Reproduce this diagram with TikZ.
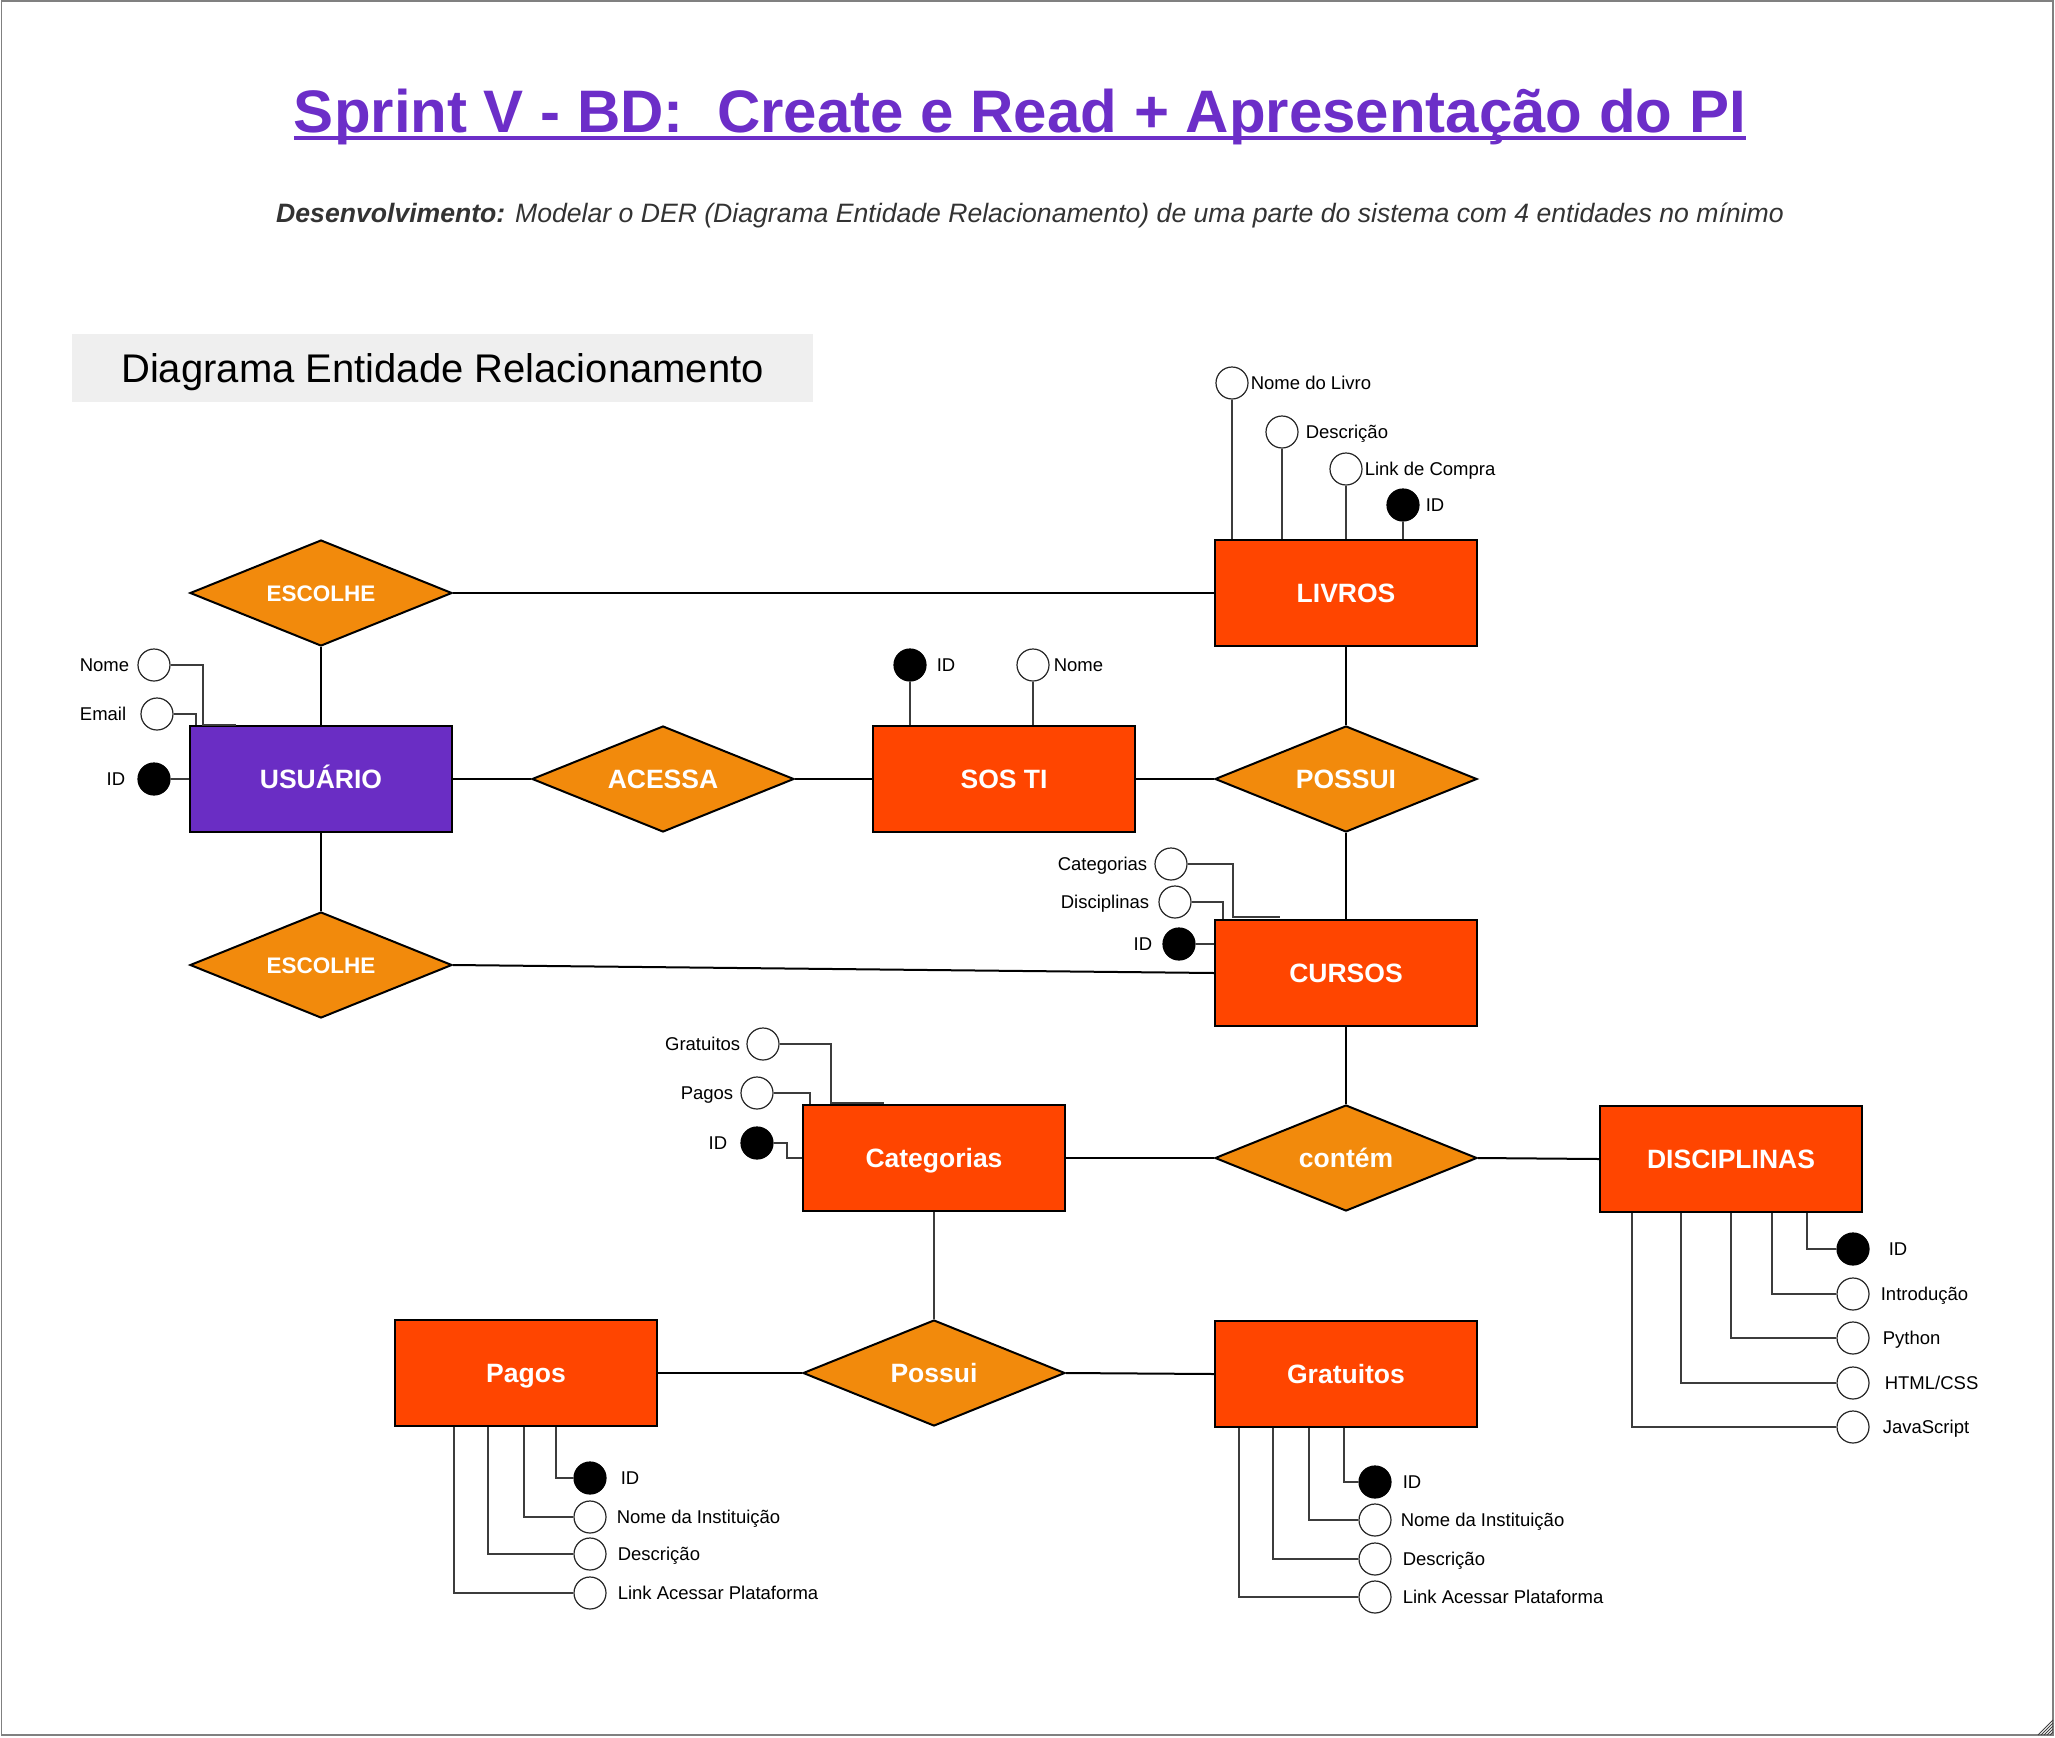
\documentclass[tikz,border=0pt]{standalone}
\usepackage{fontspec}
\setmainfont{Liberation Sans}
\usepackage{tikz}
\usetikzlibrary{positioning,shapes.geometric}
\definecolor{entorange}{RGB}{255,69,0}
\definecolor{relorange}{RGB}{242,138,12}
\definecolor{usrpurple}{RGB}{106,45,196}
\definecolor{titlepurple}{RGB}{108,46,200}
\definecolor{subgray}{RGB}{51,51,51}
\definecolor{boxgray}{RGB}{239,239,239}
\definecolor{framegray}{RGB}{128,128,128}
\definecolor{linegray}{RGB}{60,60,60}

\tikzset{
  ent/.style={draw=black,line width=2pt,fill=entorange,minimum width=262pt,
    minimum height=106pt,inner sep=0pt,text=white,text height=19pt,
    text depth=0pt,font=\fontsize{26.5}{30}\selectfont\bfseries},
  rel/.style={diamond,aspect=2.47,draw=black,line width=2pt,fill=relorange,
    minimum width=262pt,minimum height=106pt,inner sep=0pt,text=white,
    text height=19pt,text depth=0pt,
    font=\fontsize{26.5}{30}\selectfont\bfseries},
  relsmall/.style={rel,text height=16pt,
    font=\fontsize{22.5}{26}\selectfont\bfseries},
  attr/.style={circle,draw=black!85,line width=1.2pt,fill=white,
    minimum size=32pt,inner sep=0pt},
  pk/.style={attr,fill=black,draw=black},
  atxt/.style={inner sep=0pt,text height=13.3pt,text depth=0pt,
    font=\fontsize{18.5}{22}\selectfont},
  conn/.style={draw=black,line width=2pt},
  aconn/.style={draw=linegray,line width=1.3pt},
}

\begin{document}
\begin{tikzpicture}[x=1pt,y=-1pt]
  \useasboundingbox (0,0) rectangle (2055,1737);
  \draw[framegray,line width=1.5pt] (1.5,1) rectangle (2053,1735);
  \foreach \d in {3,6,9,12,15}
    \draw[black!75,line width=0.8pt] (2053-\d,1735) -- (2053,1735-\d);

  % titulo
  \node[anchor=base,inner sep=0pt,text=titlepurple,
    font=\fontsize{60}{72}\selectfont\bfseries] (title) at (1020,132)
    {Sprint V - BD:\ \ Create e Read + Apresentação do PI};
  \draw[titlepurple,line width=4pt] ([yshift=-5.5pt]title.base west)
    -- ([yshift=-5.5pt]title.base east);
  \node[anchor=base,inner sep=0pt,text=subgray,
    font=\fontsize{26.6}{30}\selectfont\itshape] (sub) at (1030,222)
    {\textbf{Desenvolvimento:} Modelar o DER (Diagrama Entidade Relacionamento) de uma parte do sistema com 4 entidades no mínimo};
  \node[fill=boxgray,minimum width=741pt,minimum height=68pt,inner sep=0pt,
    text height=28.6pt,text depth=0pt,
    font=\fontsize{40}{48}\selectfont] (der) at (442.5,368)
    {Diagrama Entidade Relacionamento};

  % entidades
  \node[ent] (liv) at (1346,593) {LIVROS};
  \node[ent,fill=usrpurple] (usr) at (321,779) {USUÁRIO};
  \node[ent] (sos) at (1004,779) {SOS TI};
  \node[ent] (cur) at (1346,973) {CURSOS};
  \node[ent] (cat) at (934,1158) {Categorias};
  \node[ent] (dis) at (1731,1159) {DISCIPLINAS};
  \node[ent] (pag) at (526,1373) {Pagos};
  \node[ent] (gra) at (1346,1374) {Gratuitos};

  % relacionamentos
  \node[relsmall] (esc1) at (321,593) {ESCOLHE};
  \node[rel] (ace) at (663,779) {ACESSA};
  \node[rel] (pos1) at (1346,779) {POSSUI};
  \node[relsmall] (esc2) at (321,965) {ESCOLHE};
  \node[rel] (con) at (1346,1158) {contém};
  \node[rel] (pos2) at (934,1373) {Possui};

  \draw[conn] (esc1.east) -- (liv.west);
  \draw[conn] (esc1.south) -- (usr.north);
  \draw[conn] (usr.east) -- (ace.west);
  \draw[conn] (ace.east) -- (sos.west);
  \draw[conn] (sos.east) -- (pos1.west);
  \draw[conn] (liv.south) -- (pos1.north);
  \draw[conn] (pos1.south) -- (cur.north);
  \draw[conn] (usr.south) -- (esc2.north);
  \draw[conn] (esc2.east) -- (cur.west);
  \draw[conn] (cur.south) -- (con.north);
  \draw[conn] (cat.east) -- (con.west);
  \draw[conn] (con.east) -- (dis.west);
  \draw[aconn] (cat.south) -- (pos2.north);
  \draw[conn] (pag.east) -- (pos2.west);
  \draw[conn] (pos2.east) -- (gra.west);

  % atributos LIVROS
  \node[attr] (lNome) at (1232,383) {};
  \node[attr] (lDesc) at (1282,432) {};
  \node[attr] (lLink) at (1346,469) {};
  \node[pk] (lID) at (1403,505) {};
  \node[atxt,right=2pt of lNome] (tlNome) {Nome do Livro};
  \node[atxt,right=7pt of lDesc] (tlDesc) {Descrição};
  \node[atxt,right=2pt of lLink] (tlLink) {Link de Compra};
  \node[atxt,right=6pt of lID] (tlID) {ID};
  \foreach \a in {lNome,lDesc,lLink,lID}
    \draw[aconn] (\a.south) -- (\a.south |- liv.north);

  % atributos USUARIO
  \node[attr] (uNome) at (154,665) {};
  \node[attr] (uEmail) at (157,714) {};
  \node[pk] (uID) at (154,779) {};
  \node[atxt,left=8pt of uNome] (tuNome) {Nome};
  \node[atxt,left=14pt of uEmail] (tuEmail) {Email};
  \node[atxt,left=12pt of uID] (tuID) {ID};
  \draw[aconn] (uNome.east) -| ([xshift=14pt]usr.north west)
    -- ([xshift=47pt]usr.north west);
  \draw[aconn] (uEmail.east) -| ([xshift=7pt]usr.north west);
  \draw[aconn] (uID.east) -- (usr.west);

  % atributos SOS TI
  \node[pk] (sID) at (910,665) {};
  \node[attr] (sNome) at (1033,665) {};
  \node[atxt,right=10pt of sID] (tsID) {ID};
  \node[atxt,right=4pt of sNome] (tsNome) {Nome};
  \draw[aconn] (sID.south) -- (sID.south |- sos.north);
  \draw[aconn] (sNome.south) -- (sNome.south |- sos.north);

  % atributos CURSOS
  \node[attr] (cCat) at (1171,864) {};
  \node[attr] (cDisc) at (1175,902) {};
  \node[pk] (cID) at (1179,944) {};
  \node[atxt,left=7pt of cCat] (tcCat) {Categorias};
  \node[atxt,left=9pt of cDisc] (tcDisc) {Disciplinas};
  \node[atxt,left=10pt of cID] (tcID) {ID};
  \draw[aconn] (cCat.east) -| ([xshift=19pt,yshift=2pt]cur.north west)
    -- ([xshift=66pt,yshift=2pt]cur.north west);
  \draw[aconn] (cDisc.east) -| ([xshift=9pt]cur.north west);
  \draw[aconn] (cID.east) -- (cID.east -| cur.west);

  % atributos Categorias
  \node[attr] (gGrat) at (763,1044) {};
  \node[attr] (gPag) at (757,1093) {};
  \node[pk] (gID) at (757,1143) {};
  \node[atxt,left=6pt of gGrat] (tgGrat) {Gratuitos};
  \node[atxt,left=7pt of gPag] (tgPag) {Pagos};
  \node[atxt,left=13pt of gID] (tgID) {ID};
  \draw[aconn] (gGrat.east) -| ([xshift=29pt,yshift=1pt]cat.north west)
    -- ([xshift=82pt,yshift=1pt]cat.north west);
  \draw[aconn] (gPag.east) -| ([xshift=8pt]cat.north west);
  \draw[aconn] (gID.east) -| ([xshift=-15pt]cat.west) -- (cat.west);

  % atributos DISCIPLINAS
  \node[pk] (dID) at (1853,1249) {};
  \node[attr] (dIntro) at (1853,1294) {};
  \node[attr] (dPy) at (1853,1338) {};
  \node[attr] (dWeb) at (1853,1383) {};
  \node[attr] (dJs) at (1853,1427) {};
  \node[atxt,right=19pt of dID] (tdID) {ID};
  \node[atxt,right=11pt of dIntro] (tdIntro) {Introdução};
  \node[atxt,right=13pt of dPy] (tdPy) {Python};
  \node[atxt,right=15pt of dWeb] (tdWeb) {HTML/CSS};
  \node[atxt,right=13pt of dJs] (tdJs) {JavaScript};
  \draw[aconn] ([xshift=208pt]dis.south west) |- (dID.west);
  \draw[aconn] ([xshift=173pt]dis.south west) |- (dIntro.west);
  \draw[aconn] ([xshift=132pt]dis.south west) |- (dPy.west);
  \draw[aconn] ([xshift=82pt]dis.south west) |- (dWeb.west);
  \draw[aconn] ([xshift=33pt]dis.south west) |- (dJs.west);

  % atributos Pagos
  \node[pk] (pID) at (590,1478) {};
  \node[attr] (pNome) at (590,1517) {};
  \node[attr] (pDesc) at (590,1554) {};
  \node[attr] (pLink) at (590,1593) {};
  \node[atxt,right=14pt of pID] (tpID) {ID};
  \node[atxt,right=10pt of pNome] (tpNome) {Nome da Instituição};
  \node[atxt,right=11pt of pDesc] (tpDesc) {Descrição};
  \node[atxt,right=11pt of pLink] (tpLink) {Link Acessar Plataforma};
  \draw[aconn] ([xshift=162pt]pag.south west) |- (pID.west);
  \draw[aconn] ([xshift=130pt]pag.south west) |- (pNome.west);
  \draw[aconn] ([xshift=94pt]pag.south west) |- (pDesc.west);
  \draw[aconn] ([xshift=60pt]pag.south west) |- (pLink.west);

  % atributos Gratuitos
  \node[pk] (rID) at (1375,1482) {};
  \node[attr] (rNome) at (1375,1520) {};
  \node[attr] (rDesc) at (1375,1559) {};
  \node[attr] (rLink) at (1375,1597) {};
  \node[atxt,right=11pt of rID] (trID) {ID};
  \node[atxt,right=9pt of rNome] (trNome) {Nome da Instituição};
  \node[atxt,right=11pt of rDesc] (trDesc) {Descrição};
  \node[atxt,right=11pt of rLink] (trLink) {Link Acessar Plataforma};
  \draw[aconn] ([xshift=130pt]gra.south west) |- (rID.west);
  \draw[aconn] ([xshift=95pt]gra.south west) |- (rNome.west);
  \draw[aconn] ([xshift=59pt]gra.south west) |- (rDesc.west);
  \draw[aconn] ([xshift=25pt]gra.south west) |- (rLink.west);
\end{tikzpicture}
\end{document}
